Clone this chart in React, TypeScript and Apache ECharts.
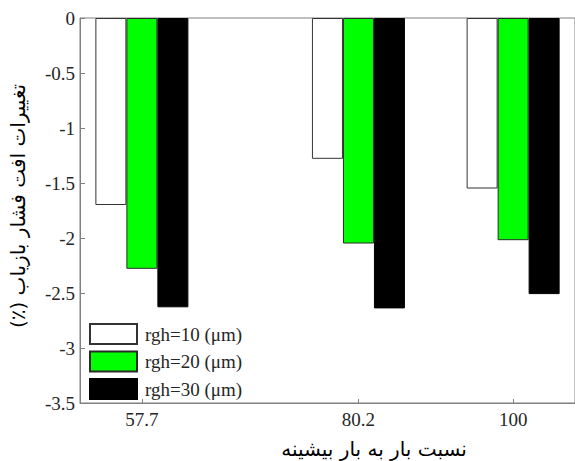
import React, { useEffect, useRef } from "react";
import * as echarts from "echarts";

// Tick labels of the x axis (load ratio) and their slots along the axis
const xTickLabels = ["57.7", "80.2", "100"];
const groupSlots = [0, 7, 12];

// Series values (change in recovery pressure drop, %)
const rgh10 = [-1.7, -1.28, -1.55];
const rgh20 = [-2.28, -2.05, -2.02];
const rgh30 = [-2.63, -2.64, -2.51];

const seriesNames = ["rgh=10 (\u03bcm)", "rgh=20 (\u03bcm)", "rgh=30 (\u03bcm)"];

const yTitle = "تغییرات افت فشار بازیاب (٪)";
const xTitle = "نسبت بار به بار بیشینه";

const SERIF = '"Liberation Serif", "Times New Roman", serif';
const ARABIC = '"DejaVu Sans", sans-serif';

export default function App() {
  const ref = useRef<HTMLDivElement>(null);

  useEffect(() => {
    if (!ref.current) return;
    const chart = echarts.init(ref.current, undefined, { renderer: "svg" });

    const mk = (vals: number[]) => vals.map((v, i) => [groupSlots[i], v]);
    const colors = ["#ffffff", "#00ff00", "#000000"];
    const borders = ["#333333", "#2a2a2a", "#000000"];
    const all = [rgh10, rgh20, rgh30];

    chart.setOption({
      animation: false,
      backgroundColor: "#ffffff",
      grid: {
        left: 80,
        top: 18,
        width: 497,
        height: 385,
        show: true,
        borderColor: "#808080",
        borderWidth: 1,
        backgroundColor: "transparent",
      },
      legend: {
        orient: "vertical",
        left: 89,
        top: 323,
        padding: 0,
        itemWidth: 47,
        itemHeight: 20,
        itemGap: 5.5,
        icon: "rect",
        data: seriesNames,
        textStyle: {
          fontFamily: SERIF,
          fontSize: 19,
          color: "#262626",
          padding: [0, 0, 0, 3],
        },
      },
      xAxis: {
        type: "value",
        min: -2,
        max: 14,
        splitLine: { show: false },
        axisLine: { onZero: false, lineStyle: { color: "#808080", width: 1 } },
        axisTick: {
          inside: true,
          length: 4,
          customValues: groupSlots,
          lineStyle: { color: "#808080" },
        },
        axisLabel: {
          customValues: groupSlots,
          formatter: (v: number) => {
            const i = groupSlots.indexOf(v);
            return i >= 0 ? xTickLabels[i] : "";
          },
          fontFamily: SERIF,
          fontSize: 19,
          color: "#262626",
          margin: 7,
        },
      },
      yAxis: {
        type: "value",
        min: -3.5,
        max: 0,
        interval: 0.5,
        splitLine: { show: false },
        axisLine: { show: true, onZero: false, lineStyle: { color: "#808080", width: 1 } },
        axisTick: { show: true, inside: true, length: 5, lineStyle: { color: "#808080" } },
        axisLabel: {
          fontFamily: SERIF,
          fontSize: 19,
          color: "#262626",
          margin: 5,
        },
      },
      series: all.map((vals, k) => ({
        name: seriesNames[k],
        type: "bar",
        data: mk(vals),
        barWidth: 31,
        barGap: "0%",
        itemStyle: {
          color: colors[k],
          borderColor: borders[k],
          borderWidth: 1,
        },
      })),
      graphic: [
        {
          type: "text",
          x: 374,
          y: 449,
          style: {
            text: xTitle,
            fontFamily: ARABIC,
            fontSize: 20,
            fill: "#000000",
            align: "center",
            verticalAlign: "middle",
          },
        },
        {
          type: "text",
          x: 18,
          y: 206,
          rotation: Math.PI / 2,
          style: {
            text: "\u202B" + yTitle + "\u202C",
            fontFamily: ARABIC,
            fontSize: 20,
            fill: "#000000",
            align: "center",
            verticalAlign: "middle",
          },
        },
      ],
    });

    return () => chart.dispose();
  }, []);

  return (
    <div
      ref={ref}
      style={{ position: "absolute", left: 0, top: 0, width: 575, height: 461 }}
    />
  );
}
